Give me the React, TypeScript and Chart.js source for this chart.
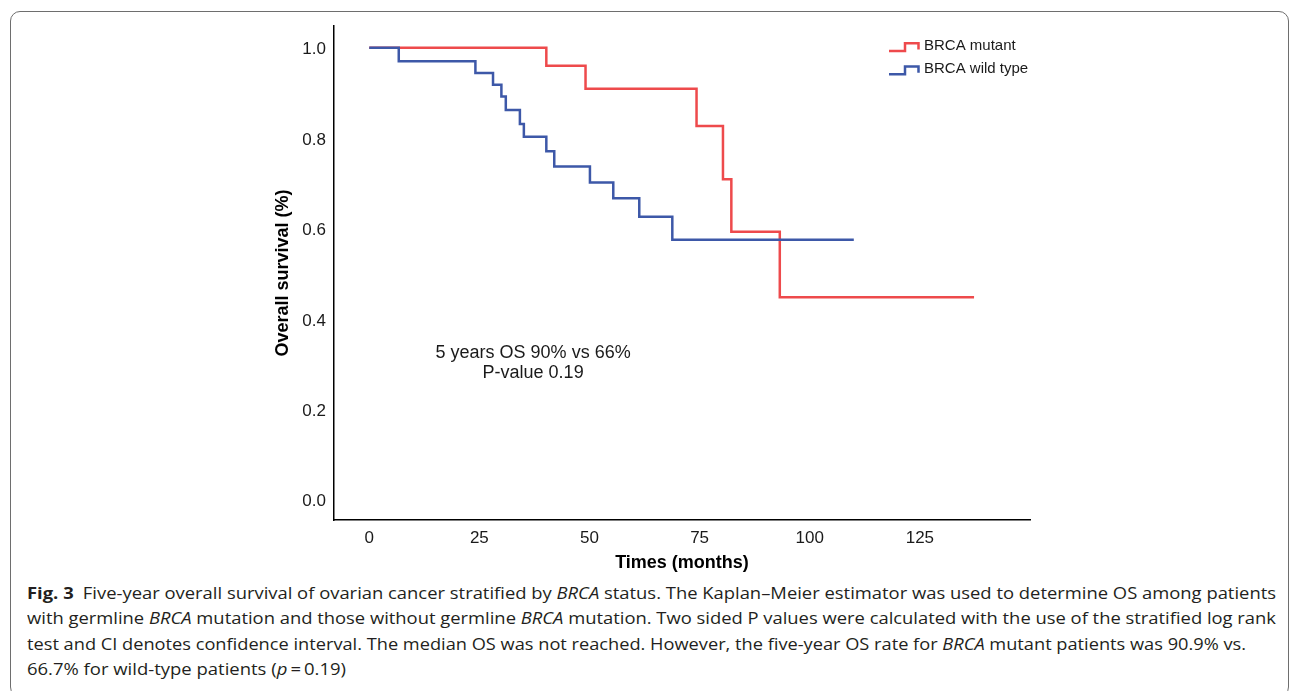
import React, { useEffect, useLayoutEffect, useRef } from "react";
import { Chart, registerables } from "chart.js";

Chart.register(...registerables);

// ---- Data ----
const mutantTimes = [0, 40.2, 49.1, 74.3, 80.3, 82.2, 93.2, 137.3];
const mutantSurvival = [1.0, 0.96, 0.909, 0.827, 0.709, 0.593, 0.448, 0.448];

const wildTypeTimes = [0, 6.7, 24.1, 28.1, 30.0, 31.0, 34.2, 35.1, 40.2, 42.0, 50.1, 55.4, 61.3, 68.8, 110.0];
const wildTypeSurvival = [1.0, 0.97, 0.944, 0.918, 0.892, 0.862, 0.831, 0.803, 0.771, 0.737, 0.702, 0.667, 0.626, 0.575, 0.575];

const seriesLabels = ["BRCA mutant", "BRCA wild type"];
const seriesColors = ["#EE4A4C", "#3D58A8"];

const xTickValues = [0, 25, 50, 75, 100, 125];
const yTickValues = [0, 0.2, 0.4, 0.6, 0.8, 1.0];

const xAxisTitle = "Times (months)";
const yAxisTitle = "Overall survival (%)";

const annotationLines = ["5 years OS 90% vs 66%", "P-value 0.19"];
const annotationX = 37.2;
const annotationY = [0.325, 0.281];

const FONT = "'Liberation Sans', Arial, Helvetica, sans-serif";

const legendPlugin = {
  id: "kmLegend",
  afterDraw(chart: any) {
    const ctx = chart.ctx as CanvasRenderingContext2D;
    const rows = [46, 69.3];
    const x0 = 889;
    ctx.save();
    seriesLabels.forEach((label, i) => {
      const yc = rows[i];
      ctx.strokeStyle = seriesColors[i];
      ctx.lineWidth = 2.5;
      ctx.lineJoin = "miter";
      ctx.beginPath();
      ctx.moveTo(x0, yc + 5);
      ctx.lineTo(x0 + 16, yc + 5);
      ctx.lineTo(x0 + 16, yc - 2.7);
      ctx.lineTo(x0 + 29.5, yc - 2.7);
      ctx.lineTo(x0 + 29.5, yc + 3.4);
      ctx.stroke();
      ctx.fillStyle = "#1a1a1a";
      ctx.font = `15px ${FONT}`;
      ctx.textAlign = "left";
      ctx.textBaseline = "middle";
      ctx.fillText(label, x0 + 35, yc);
    });
    ctx.restore();
  },
};

const annotationPlugin = {
  id: "kmAnnotation",
  afterDraw(chart: any) {
    const ctx = chart.ctx as CanvasRenderingContext2D;
    const xs = chart.scales.x;
    const ys = chart.scales.y;
    ctx.save();
    ctx.fillStyle = "#1a1a1a";
    ctx.font = `18px ${FONT}`;
    ctx.textAlign = "center";
    ctx.textBaseline = "middle";
    annotationLines.forEach((line, i) => {
      ctx.fillText(line, xs.getPixelForValue(annotationX), ys.getPixelForValue(annotationY[i]));
    });
    ctx.restore();
  },
};

function KMChart() {
  const canvasRef = useRef<HTMLCanvasElement>(null);
  useEffect(() => {
    if (!canvasRef.current) return;
    const toPoints = (t: number[], s: number[]) => t.map((x, i) => ({ x, y: s[i] }));
    const chart = new Chart(canvasRef.current, {
      type: "line",
      data: {
        datasets: [
          {
            label: seriesLabels[0],
            data: toPoints(mutantTimes, mutantSurvival),
            borderColor: seriesColors[0],
            backgroundColor: seriesColors[0],
            borderWidth: 2.5,
            pointRadius: 0,
            stepped: "before",
            fill: false,
            order: 1,
          },
          {
            label: seriesLabels[1],
            data: toPoints(wildTypeTimes, wildTypeSurvival),
            borderColor: seriesColors[1],
            backgroundColor: seriesColors[1],
            borderWidth: 2.5,
            pointRadius: 0,
            stepped: "before",
            fill: false,
            order: 0,
          },
        ],
      },
      options: {
        animation: false,
        responsive: false,
        maintainAspectRatio: false,
        layout: { padding: { left: 268, top: 26, right: 260, bottom: 3 } },
        plugins: {
          legend: { display: false },
          tooltip: { enabled: false },
          title: { display: false },
        },
        scales: {
          x: {
            type: "linear",
            min: -8,
            max: 150,
            afterBuildTicks: (axis: any) => {
              axis.ticks = xTickValues.map((v) => ({ value: v }));
            },
            afterFit: (axis: any) => {
              axis.height = 57;
            },
            grid: { display: false, drawTicks: false },
            border: { display: true, color: "#000", width: 1.5 },
            ticks: {
              font: { family: FONT, size: 17 },
              color: "#1a1a1a",
              padding: 8,
              maxRotation: 0,
              autoSkip: false,
              callback: (v: any) => String(v),
            },
            title: {
              display: true,
              text: xAxisTitle,
              font: { family: FONT, size: 18, weight: "bold" },
              color: "#000",
              padding: { top: 4, bottom: 3 },
            },
          },
          y: {
            type: "linear",
            min: -0.045,
            max: 1.048,
            afterBuildTicks: (axis: any) => {
              axis.ticks = yTickValues.map((v) => ({ value: v }));
            },
            afterFit: (axis: any) => {
              axis.width = 66;
            },
            grid: { display: false, drawTicks: false },
            border: { display: true, color: "#000", width: 1.5 },
            ticks: {
              font: { family: FONT, size: 17 },
              color: "#1a1a1a",
              padding: 8,
              labelOffset: 2,
              autoSkip: false,
              callback: (v: any) => Number(v).toFixed(1),
            },
            title: {
              display: true,
              text: yAxisTitle,
              font: { family: FONT, size: 18, weight: "bold" },
              color: "#000",
              padding: { top: 4, bottom: 4 },
            },
          },
        },
      } as any,
      plugins: [legendPlugin, annotationPlugin],
    });
    return () => chart.destroy();
  }, []);
  return (
    <canvas
      ref={canvasRef}
      width={1290}
      height={580}
      style={{ position: "absolute", left: 0, top: 0, width: 1290, height: 580 }}
    />
  );
}

function FitLine({ top, width, children }: { top: number; width: number; children: React.ReactNode }) {
  const ref = useRef<HTMLSpanElement>(null);
  useLayoutEffect(() => {
    const fit = () => {
      const el = ref.current;
      if (!el) return;
      el.style.transform = "none";
      const w = el.getBoundingClientRect().width;
      if (w > 0) el.style.transform = `scaleX(${width / w})`;
    };
    fit();
    if ((document as any).fonts && (document as any).fonts.ready) {
      (document as any).fonts.ready.then(fit);
    }
  }, [width]);
  return (
    <div
      style={{
        position: "absolute",
        left: 27,
        top,
        height: 25.4,
        lineHeight: "25.4px",
        whiteSpace: "nowrap",
      }}
    >
      <span ref={ref} style={{ display: "inline-block", transformOrigin: "0 0" }}>
        {children}
      </span>
    </div>
  );
}

function Caption() {
  const base = 581;
  const lh = 25.4;
  return (
    <div
      style={{
        fontFamily: "'Open Sans', 'Noto Sans', sans-serif",
        fontSize: 16,
        color: "#231f20",
      }}
    >
      <FitLine top={base} width={1249}>
        <b>Fig. 3</b>
        {"\u2002Five-year overall survival of ovarian cancer stratified by "}
        <i>BRCA</i>
        {" status. The Kaplan\u2013Meier estimator was used to determine OS among patients"}
      </FitLine>
      <FitLine top={base + lh} width={1249}>
        {"with germline "}
        <i>BRCA</i>
        {" mutation and those without germline "}
        <i>BRCA</i>
        {" mutation. Two sided P values were calculated with the use of the stratified log rank"}
      </FitLine>
      <FitLine top={base + 2 * lh} width={1219}>
        {"test and CI denotes confidence interval. The median OS was not reached. However, the five-year OS rate for "}
        <i>BRCA</i>
        {" mutant patients was 90.9% vs."}
      </FitLine>
      <FitLine top={base + 3 * lh} width={319}>
        {"66.7% for wild-type patients ("}
        <i>p</i>
        {"\u2009=\u20090.19)"}
      </FitLine>
    </div>
  );
}

export default function App() {
  return (
    <div
      style={{
        position: "absolute",
        left: 0,
        top: 0,
        width: 1290,
        height: 691,
        overflow: "hidden",
        background: "#fff",
      }}
    >
      <div
        style={{
          position: "absolute",
          left: 10,
          top: 11,
          width: 1279,
          height: 686,
          border: "1.5px solid #6e6e6e",
          borderRadius: 10,
          boxSizing: "border-box",
        }}
      />
      <KMChart />
      <Caption />
    </div>
  );
}
